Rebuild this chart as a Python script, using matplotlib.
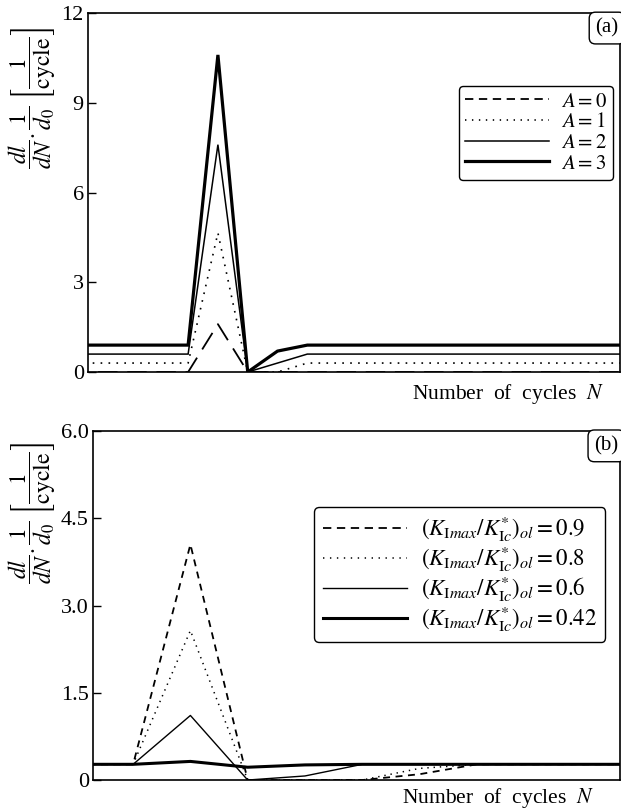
import numpy as np
import matplotlib
matplotlib.use('Agg')
import matplotlib.pyplot as plt
from matplotlib.lines import Line2D

plt.rcParams['font.family'] = ['Liberation Serif', 'DejaVu Serif']
plt.rcParams['mathtext.fontset'] = 'stix'
plt.rcParams['lines.scale_dashes'] = False

# (a) growth rate vs. cycles for several A
n_a = [0, 4, 5, 6, 7, 8, 20]
a0 = [0, 0, 1.6, 0, 0, 0, 0]
a1 = [0.3, 0.3, 4.65, 0, 0, 0.3, 0.3]
a2 = [0.6, 0.6, 7.6, 0, 0.3, 0.6, 0.6]
a3 = [0.9, 0.9, 10.6, 0, 0.7, 0.9, 0.9]
labels_a = ['$A = 0$', '$A = 1$', '$A = 2$', '$A = 3$']

# (b) growth rate vs. cycles for several overload ratios
n_b = [0, 1, 2, 3, 4, 5, 6, 7, 12]
k09 = [0.27, 0.27, 4.05, 0, 0, 0, 0.1, 0.27, 0.27]
k08 = [0.27, 0.27, 2.57, 0, 0, 0, 0.2, 0.27, 0.27]
k06 = [0.27, 0.27, 1.11, 0, 0.07, 0.27, 0.27, 0.27, 0.27]
k042 = [0.27, 0.27, 0.32, 0.22, 0.26, 0.27, 0.27, 0.27, 0.27]
ratios = ['0.9', '0.8', '0.6', '0.42']
labels_b = ['$(K_{\\mathrm{I}max}/K^{*}_{\\mathrm{I}c})_{ol} = ' + r + '$' for r in ratios]

ylab = r'$\dfrac{dl}{dN}.\dfrac{1}{d_0}\ \left[\dfrac{1}{\mathrm{cycle}}\right]$'

fig = plt.figure(figsize=(6.21, 8.10), dpi=100)
ax1 = fig.add_axes([0.1417, 0.5407, 0.857, 0.4432])
ax2 = fig.add_axes([0.1498, 0.0370, 0.8486, 0.4309])

# styles: (data dashes, legend dashes, width)
sty_a = [((0, (14, 7)), (0, (6, 4)), 1.3),
         ((0, (1.2, 4.5)), (0, (1, 4)), 1.2),
         ('-', '-', 1.1),
         ('-', '-', 2.3)]
for y, (ls, lls, lw) in zip([a0, a1, a2, a3], sty_a):
    ax1.plot(n_a, y, color='black', ls=ls, lw=lw, solid_joinstyle='miter')
handles_a = [Line2D([], [], color='black', ls=lls, lw=lw) for ls, lls, lw in sty_a]

sty_b = [((0, (5, 4)), (0, (6, 4)), 1.3),
         ((0, (1, 3.5)), (0, (1, 4)), 1.1),
         ('-', '-', 1.0),
         ('-', '-', 2.2)]
for y, (ls, lls, lw) in zip([k09, k08, k06, k042], sty_b):
    ax2.plot(n_b, y, color='black', ls=ls, lw=lw)
handles_b = [Line2D([], [], color='black', ls=lls, lw=lw) for ls, lls, lw in sty_b]

ax1.set_xlim(0.64, 18.5)
ax1.set_ylim(0, 12)
ax1.set_yticks([0, 3, 6, 9, 12])
ax1.set_yticklabels(['0', '3', '6', '9', '12'])

ax2.set_xlim(0.3, 9.5)
ax2.set_ylim(0, 6)
ax2.set_yticks([0, 1.5, 3.0, 4.5, 6.0])
ax2.set_yticklabels(['0', '1.5', '3.0', '4.5', '6.0'])

for ax, tag, ylx, xlx, xly in [(ax1, '(a)', -0.056, 0.97, -0.028),
                               (ax2, '(b)', -0.066, 0.951, -0.018)]:
    ax.set_xticks([])
    ax.tick_params(axis='y', direction='in', length=6, width=1.0, labelsize=16, pad=3)
    for s in ax.spines.values():
        s.set_linewidth(1.2)
    ax.set_xlabel('Number  of  cycles  $N$', fontsize=15.5, ha='right', va='top')
    ax.xaxis.set_label_coords(xlx, xly)
    ax.set_ylabel(ylab, fontsize=17, va='bottom')
    ax.yaxis.set_label_coords(ylx, 0.765)
    ax.text(0.997, 0.985, tag, transform=ax.transAxes, ha='right', va='top', fontsize=15,
            bbox=dict(boxstyle='round,pad=0.3,rounding_size=0.3', fc='white', ec='black', lw=1.0))

leg1 = ax1.legend(handles_a, labels_a, loc='upper right', bbox_to_anchor=(0.987, 0.797),
                  borderaxespad=0, fontsize=15, handlelength=4.0, handletextpad=0.6,
                  labelspacing=0.05, borderpad=0.3, fancybox=True, framealpha=1,
                  edgecolor='black')
leg1.get_frame().set_linewidth(1.0)

leg2 = ax2.legend(handles_b, labels_b, loc='upper right', bbox_to_anchor=(0.972, 0.782),
                  borderaxespad=0, fontsize=16.5, handlelength=3.7, handletextpad=0.6,
                  labelspacing=0.02, borderpad=0.35, fancybox=True, framealpha=1,
                  edgecolor='black')
leg2.get_frame().set_linewidth(1.0)

fig.savefig('out.png', dpi=100)
